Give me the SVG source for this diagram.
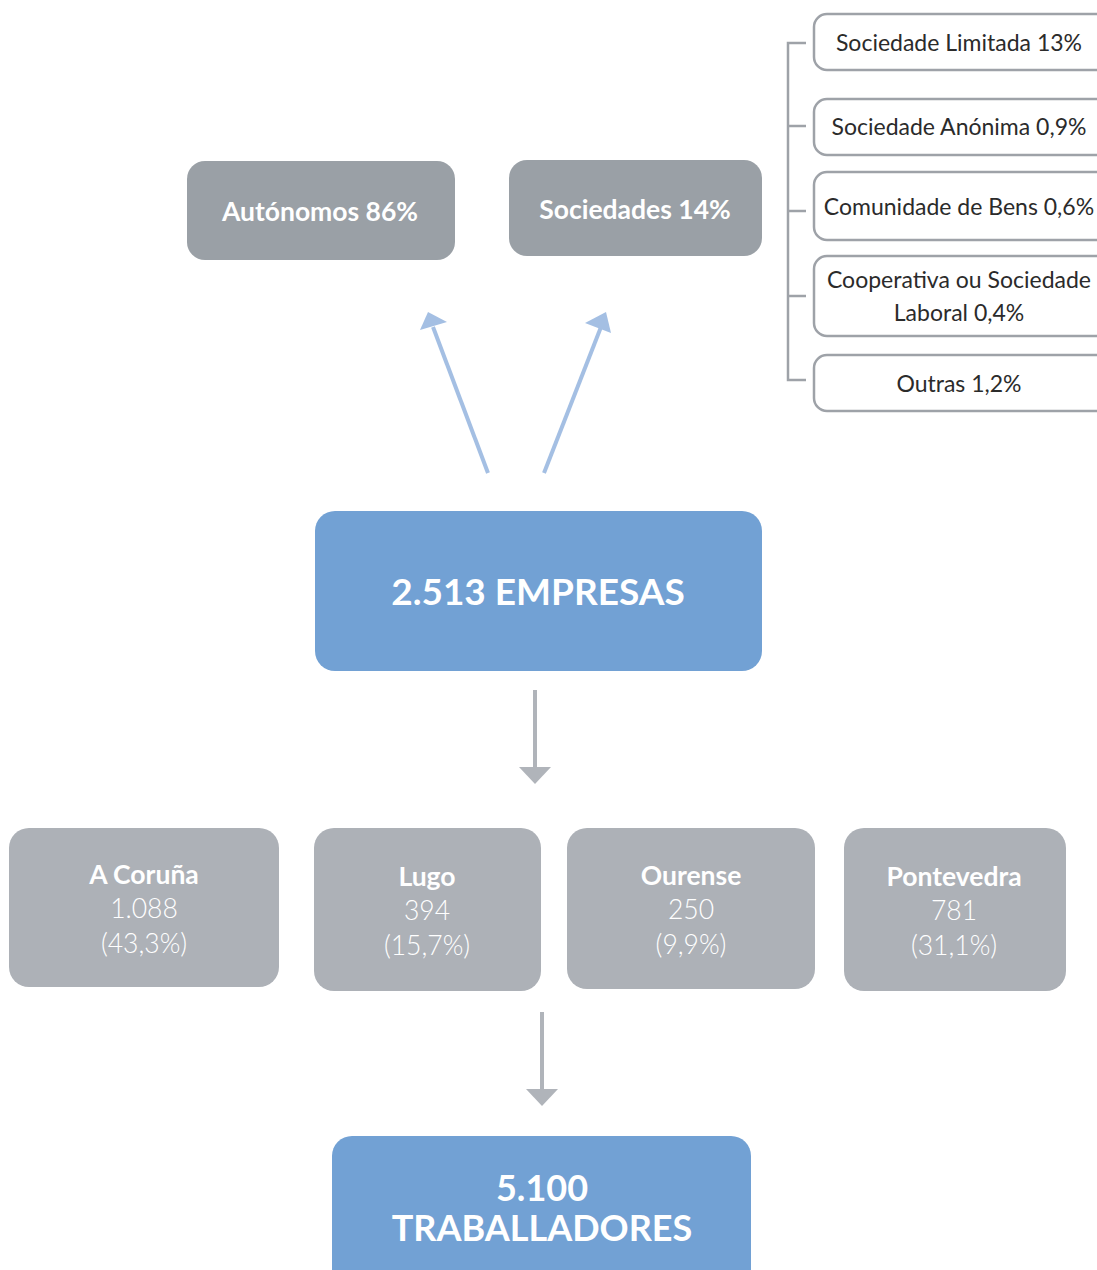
<svg xmlns="http://www.w3.org/2000/svg" width="1097" height="1270" viewBox="0 0 1097 1270">
<defs>
<style>
.t{font-family:Lato,"Noto Sans","Liberation Sans",sans-serif;text-anchor:middle;}
.out{fill:#ffffff;stroke:#9ea2a8;stroke-width:2.5;}
.dark{fill:#9aa0a6;}
.prov{fill:#adb1b7;}
.blue{fill:#72a1d4;}
.w{fill:#ffffff;}
.k{fill:#2b2b2b;font-size:23px;}
.big{font-size:37px;font-weight:700;}
.big2{font-size:36px;font-weight:700;}
.mid{font-size:26.5px;font-weight:700;}
.num{font-size:26.5px;font-weight:300;}
</style>
</defs>
<g id="connectors">
<g stroke="#a4bfe3" stroke-width="4" fill="none">
<line x1="488" y1="473" x2="433" y2="327"/>
<line x1="544" y1="473" x2="601" y2="327"/>
</g>
<polygon points="428,312 420,330 447,322" fill="#a4bfe3"/>
<polygon points="606,312 585,323 611,333" fill="#a4bfe3"/>
<line x1="535" y1="690" x2="535" y2="770" stroke="#b0b4ba" stroke-width="4"/>
<polygon points="519,767 551,767 535,784" fill="#b0b4ba"/>
<line x1="542" y1="1012" x2="542" y2="1092" stroke="#b0b4ba" stroke-width="4"/>
<polygon points="526,1089 558,1089 542,1106" fill="#b0b4ba"/>
<path d="M806,43 H788 V380 H806 M788,126 H806 M788,211 H806 M788,296 H806" stroke="#9ea2a8" stroke-width="2.5" fill="none"/>
</g>
<g id="n-limitada"><rect class="out" x="814" y="14" width="300" height="56" rx="13"/><text class="t k" x="959" y="51">Sociedade Limitada 13%</text></g>
<g id="n-anonima"><rect class="out" x="814" y="99" width="300" height="56" rx="13"/><text class="t k" x="959" y="135">Sociedade Anónima 0,9%</text></g>
<g id="n-bens"><rect class="out" x="814" y="172" width="300" height="68" rx="13"/><text class="t k" x="959" y="215">Comunidade de Bens 0,6%</text></g>
<g id="n-coop"><rect class="out" x="814" y="256" width="300" height="80" rx="13"/><text class="t k" x="959" y="288">Cooperativa ou Sociedade</text><text class="t k" x="959" y="321">Laboral 0,4%</text></g>
<g id="n-outras"><rect class="out" x="814" y="355" width="300" height="56" rx="13"/><text class="t k" x="959" y="392">Outras 1,2%</text></g>
<g id="n-autonomos"><rect class="dark" x="187" y="161" width="268" height="99" rx="18"/><text class="t w mid" x="320" y="221">Autónomos 86%</text></g>
<g id="n-sociedades"><rect class="dark" x="509" y="160" width="253" height="96" rx="18"/><text class="t w mid" x="635" y="219">Sociedades 14%</text></g>
<g id="n-empresas"><rect class="blue" x="315" y="511" width="447" height="160" rx="20"/><text class="t w big" x="538" y="605">2.513 EMPRESAS</text></g>
<g id="n-coruna"><rect class="prov" x="9" y="828" width="270" height="159" rx="20"/><text class="t w mid" x="144" y="884">A Coruña</text><text class="t w num" x="144" y="918">1.088</text><text class="t w num" x="144" y="953">(43,3%)</text></g>
<g id="n-lugo"><rect class="prov" x="314" y="828" width="227" height="163" rx="20"/><text class="t w mid" x="427" y="886">Lugo</text><text class="t w num" x="427" y="920">394</text><text class="t w num" x="427" y="955">(15,7%)</text></g>
<g id="n-ourense"><rect class="prov" x="567" y="828" width="248" height="161" rx="20"/><text class="t w mid" x="691" y="885">Ourense</text><text class="t w num" x="691" y="919">250</text><text class="t w num" x="691" y="954">(9,9%)</text></g>
<g id="n-pontevedra"><rect class="prov" x="844" y="828" width="222" height="163" rx="20"/><text class="t w mid" x="954" y="886">Pontevedra</text><text class="t w num" x="954" y="920">781</text><text class="t w num" x="954" y="955">(31,1%)</text></g>
<g id="n-traballadores"><rect class="blue" x="332" y="1136" width="419" height="160" rx="20"/><text class="t w big2" x="542" y="1201">5.100</text><text class="t w big2" x="542" y="1241">TRABALLADORES</text></g>
</svg>
